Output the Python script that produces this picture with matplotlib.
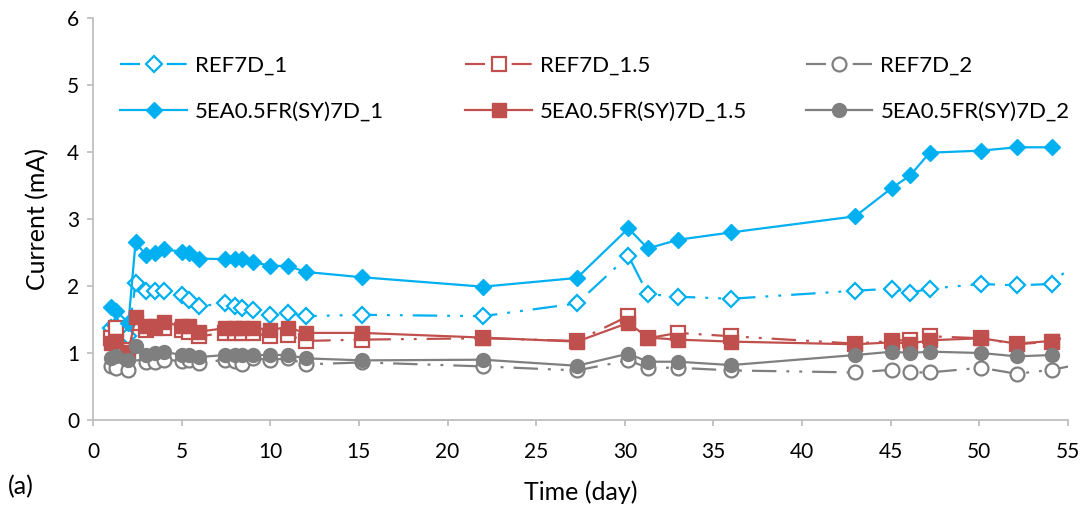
import matplotlib
matplotlib.use('Agg')
import matplotlib.pyplot as plt
from matplotlib.lines import Line2D

plt.rcParams['font.family'] = ['Lato', 'DejaVu Sans']

# measurement days
t = [1.0, 1.3, 2.0, 2.4, 3.0, 3.5, 4.0, 5.0, 5.4, 6.0, 7.45, 8.0, 8.4, 9.0, 10.0,
     11.0, 12.0, 15.2, 22.0, 27.3, 30.2, 31.3, 33.0, 36.0, 43.0, 45.1, 46.1, 47.2,
     50.1, 52.1, 54.1]
t_ref = t + [56.2]

# current readings (mA)
ref_1 = [1.38, 1.40, 1.25, 2.05, 1.92, 1.92, 1.92, 1.86, 1.79, 1.70, 1.74, 1.70, 1.67,
         1.64, 1.57, 1.60, 1.55, 1.57, 1.55, 1.74, 2.45, 1.88, 1.84, 1.81, 1.93, 1.96,
         1.90, 1.96, 2.03, 2.01, 2.03, 2.55]
ref_15 = [1.22, 1.38, 1.05, 1.45, 1.35, 1.38, 1.38, 1.35, 1.32, 1.25, 1.30, 1.30, 1.30,
          1.30, 1.25, 1.27, 1.18, 1.20, 1.22, 1.18, 1.55, 1.22, 1.30, 1.25, 1.14, 1.18,
          1.20, 1.25, 1.22, 1.13, 1.17, 1.38]
ref_2 = [0.80, 0.78, 0.75, 1.00, 0.87, 0.87, 0.90, 0.88, 0.90, 0.85, 0.90, 0.88, 0.84,
         0.92, 0.90, 0.92, 0.83, 0.86, 0.80, 0.74, 0.89, 0.78, 0.78, 0.74, 0.71, 0.75,
         0.71, 0.71, 0.78, 0.69, 0.75, 0.86]
sy_1 = [1.68, 1.63, 1.45, 2.65, 2.46, 2.49, 2.55, 2.51, 2.50, 2.41, 2.40, 2.40, 2.40,
        2.36, 2.30, 2.30, 2.21, 2.13, 1.99, 2.12, 2.86, 2.56, 2.69, 2.80, 3.04, 3.47,
        3.65, 3.99, 4.02, 4.07, 4.07]
sy_15 = [1.15, 1.18, 1.02, 1.53, 1.40, 1.40, 1.46, 1.40, 1.41, 1.32, 1.37, 1.37, 1.37,
         1.37, 1.35, 1.38, 1.30, 1.30, 1.23, 1.17, 1.45, 1.23, 1.20, 1.17, 1.13, 1.16,
         1.14, 1.19, 1.22, 1.14, 1.18]
sy_2 = [0.92, 0.95, 0.90, 1.10, 0.97, 1.00, 1.02, 0.97, 0.97, 0.94, 0.97, 0.97, 0.97,
        0.97, 0.97, 0.97, 0.92, 0.89, 0.90, 0.81, 0.99, 0.87, 0.87, 0.82, 0.97, 1.02,
        1.00, 1.02, 1.00, 0.95, 0.97]

blue = '#00B0F0'
red = '#C0504D'
grey = '#7F7F7F'
dash = (11, 4.5, 1.3, 4.5, 1.3, 4.5)
colours = [blue, red, grey]
shapes = [('D', 8), ('s', 10), ('o', 10)]

fig = plt.figure(figsize=(10.85, 5.08), dpi=100)
ax = fig.add_axes([0.0857, 0.1732, 0.8986, 0.7914])

ref_names = ['REF7D_1', 'REF7D_1.5', 'REF7D_2']
sy_names = ['5EA0.5FR(SY)7D_1', '5EA0.5FR(SY)7D_1.5', '5EA0.5FR(SY)7D_2']

# reference mixes: dash-dot-dot with open markers
for y, c, (m, ms) in zip([ref_1, ref_15, ref_2], colours, shapes):
    ax.plot(t_ref, y, color=c, lw=1.6, dashes=dash, marker=m, ms=ms,
            mfc='white', mec=c, mew=1.6)
# SY mixes: solid with filled markers
for y, c, (m, ms) in zip([sy_1, sy_15, sy_2], colours, shapes):
    ax.plot(t, y, color=c, lw=1.6, marker=m, ms=ms, mfc=c, mec=c)

ax.set_xlim(0, 55)
ax.set_ylim(0, 6)
ax.set_xticks(range(0, 56, 5))
ax.set_yticks(range(0, 7))
for s in ['top', 'right']:
    ax.spines[s].set_visible(False)
for s in ['left', 'bottom']:
    ax.spines[s].set_color('#BFBFBF')
    ax.spines[s].set_linewidth(1.3)
ax.tick_params(colors='#BFBFBF', labelcolor='black', labelsize=15, length=4, width=1.3)
ax.tick_params(axis='x', pad=12)
ax.tick_params(axis='y', pad=6)
ax.set_xlabel('Time (day)', fontsize=18, labelpad=13)
ax.set_ylabel('Current (mA)', fontsize=18, labelpad=13)

# one legend per colour column
col_x = [0.028, 0.382, 0.731]
for i in range(3):
    c = colours[i]
    m, ms = shapes[i]
    hr = Line2D([], [], color=c, lw=1.6, dashes=(9, 12), marker=m, ms=ms,
                mfc='white', mec=c, mew=1.6)
    hs = Line2D([], [], color=c, lw=1.6, marker=m, ms=ms, mfc=c, mec=c)
    leg = ax.legend([hr, hs], [ref_names[i], sy_names[i]], loc='upper left',
                    bbox_to_anchor=(col_x[i], 0.907), frameon=False, fontsize=16,
                    handlelength=3.0, handletextpad=0.36, labelspacing=1.2,
                    borderpad=0, borderaxespad=0)
    if i < 2:
        ax.add_artist(leg)

fig.text(0.007, 0.027, '(a)', fontsize=18)

fig.savefig('out.png', dpi=100)
